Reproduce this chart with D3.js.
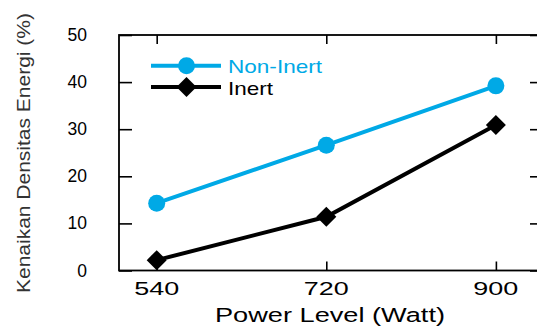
<!DOCTYPE html>
<html lang="en">
<head>
<meta charset="UTF-8">
<title>Kenaikan Densitas Energi</title>
<script src="https://d3js.org/d3.v7.min.js"></script>
<style>
  body { margin: 0; background: #fff; }
  text { font-family: "Liberation Sans", Arial, sans-serif; }
</style>
</head>
<body>
<svg id="chart" width="537" height="328"></svg>
<script>
// data
var powerLevels = [540, 720, 900];
var nonInert = [14.3, 26.6, 39.2];
var inert = [2.2, 11.4, 30.9];
var yTicks = [0, 10, 20, 30, 40, 50];
var seriesNames = ["Non-Inert", "Inert"];

var svg = d3.select("#chart");
var plotLeft = 119, plotRight = 543, plotTop = 35, plotBottom = 270.5;

var x = d3.scaleLinear().domain([500, 950]).range([plotLeft, plotRight]);
var y = d3.scaleLinear().domain([0, 50]).range([plotBottom, plotTop]);

var cyan = "#00a9e6";

// frame
svg.append("rect")
    .attr("x", plotLeft).attr("y", plotTop)
    .attr("width", plotRight - plotLeft).attr("height", plotBottom - plotTop)
    .attr("fill", "none").attr("stroke", "#000").attr("stroke-width", 1.8);

// inward ticks on all sides
var yAxisL = d3.axisLeft(y).tickValues(yTicks).tickSize(-13).tickFormat("");
var yAxisR = d3.axisRight(y).tickValues(yTicks).tickSize(-13).tickFormat("");
var xAxisB = d3.axisBottom(x).tickValues(powerLevels).tickSize(-9).tickFormat("");
var xAxisT = d3.axisTop(x).tickValues(powerLevels).tickSize(-9).tickFormat("");
[[yAxisL, "translate(" + plotLeft + ",0)"], [yAxisR, "translate(" + plotRight + ",0)"],
 [xAxisB, "translate(0," + plotBottom + ")"], [xAxisT, "translate(0," + plotTop + ")"]].forEach(function(a) {
    var g = svg.append("g").attr("transform", a[1]).call(a[0]);
    g.select(".domain").remove();
    g.selectAll("line").attr("stroke", "#000").attr("stroke-width", 1.6);
});

// tick labels
svg.selectAll(".ylab").data(yTicks).enter().append("text")
    .attr("x", 87).attr("y", d => y(d) + 6)
    .attr("text-anchor", "end")
    .attr("font-size", 17.5)
    .text(d => d);

svg.selectAll(".xlab").data(powerLevels).enter().append("text")
    .attr("x", d => x(d) - 22.5).attr("y", 295)
    .attr("font-size", 18.5)
    .attr("textLength", 45).attr("lengthAdjust", "spacingAndGlyphs")
    .text(d => d);

// axis titles
svg.append("text")
    .attr("x", 215).attr("y", 322)
    .attr("font-size", 20.5)
    .attr("textLength", 230).attr("lengthAdjust", "spacingAndGlyphs")
    .text("Power Level (Watt)");

svg.append("text")
    .attr("transform", "translate(30,293) rotate(-90)")
    .attr("font-size", 18)
    .attr("fill", "#333")
    .attr("textLength", 280).attr("lengthAdjust", "spacingAndGlyphs")
    .text("Kenaikan Densitas Energi (%)");

// lines
var line = d3.line().x((d, i) => x(powerLevels[i])).y(d => y(d));
var diamond = d3.symbol().type(d3.symbolSquare).size(200);

svg.append("path").datum(nonInert).attr("d", line)
    .attr("fill", "none").attr("stroke", cyan).attr("stroke-width", 4);
svg.append("path").datum(inert).attr("d", line)
    .attr("fill", "none").attr("stroke", "#000").attr("stroke-width", 4);

svg.selectAll(".pt1").data(nonInert).enter().append("circle")
    .attr("cx", (d, i) => x(powerLevels[i])).attr("cy", d => y(d))
    .attr("r", 8.5).attr("fill", cyan);

svg.selectAll(".pt2").data(inert).enter().append("path")
    .attr("d", diamond)
    .attr("transform", (d, i) => "translate(" + x(powerLevels[i]) + "," + y(d) + ") rotate(45)")
    .attr("fill", "#000");

// legend
var legend = svg.append("g");
var legendY = [65.7, 87];
var legendColors = [cyan, "#000"];
var legendWidths = [94, 45];
seriesNames.forEach(function(name, i) {
    legend.append("line")
        .attr("x1", 151).attr("x2", 221)
        .attr("y1", legendY[i]).attr("y2", legendY[i])
        .attr("stroke", legendColors[i]).attr("stroke-width", 4);
    if (i === 0) {
        legend.append("circle").attr("cx", 186.5).attr("cy", legendY[i])
            .attr("r", 8.5).attr("fill", cyan);
    } else {
        legend.append("path").attr("d", diamond)
            .attr("transform", "translate(186.5," + legendY[i] + ") rotate(45)")
            .attr("fill", "#000");
    }
    legend.append("text")
        .attr("x", 228).attr("y", legendY[i] + 7.5)
        .attr("font-size", 19)
        .attr("fill", legendColors[i])
        .attr("textLength", legendWidths[i]).attr("lengthAdjust", "spacingAndGlyphs")
        .text(name);
});
</script>
</body>
</html>
